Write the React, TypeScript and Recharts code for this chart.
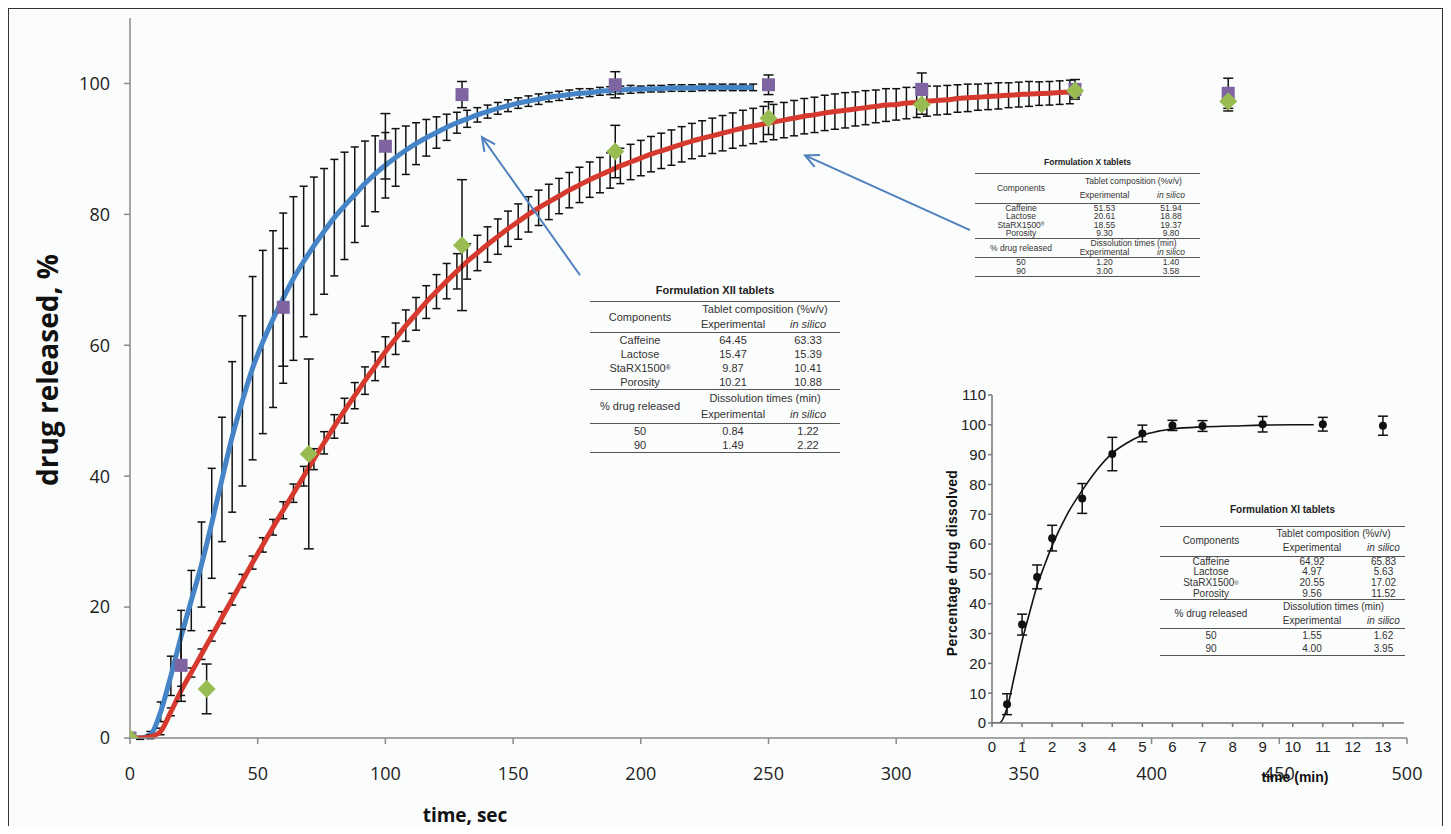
import React from 'react';
import { ComposedChart, Line, Scatter, XAxis, YAxis, ErrorBar, ReferenceLine } from 'recharts';

// ---- Main chart: simulated curves (time in s, % released, error) ----
const blueTimes = [0,4,8,12,16,20,24,28,32,36,40,44,48,52,56,60,64,68,72,76,80,84,88,92,96,100,104,108,112,116,120,124,128,132,136,140,144,148,152,156,160,164,168,172,176,180,184,188,192,196,200,204,208,212,216,220,224,228,232,236,240,244];
const blueValues = [0,0,0.5,4,9.5,15.5,21,26.5,32.8,39.5,46,51.5,56.5,60.5,64,67.2,70.2,72.8,75.2,77.4,79.5,81.3,83,84.7,86.2,87.5,88.7,89.8,90.8,91.7,92.5,93.3,94,94.6,95.2,95.7,96.2,96.6,97,97.3,97.6,97.9,98.1,98.3,98.5,98.6,98.8,98.9,99,99.1,99.1,99.2,99.2,99.3,99.3,99.3,99.4,99.4,99.4,99.4,99.4,99.4];
const blueErrors = [0,0.2,0.5,1.5,3,4,4.6,6.5,8.4,9.5,11.5,13,14,14,13.5,13,12.5,11.5,10.5,9.6,8.9,8.2,7.3,6.5,5.8,5,4.4,3.7,3.2,2.8,2.4,2,1.6,1.3,1.1,1,0.9,0.9,0.8,0.8,0.8,0.7,0.7,0.7,0.7,0.6,0.6,0.6,0.6,0.6,0.5,0.5,0.5,0.5,0.5,0.5,0.5,0.5,0.5,0.5,0.5,0.5];

const redTimes = [0,4,8,12,16,20,24,28,32,36,40,44,48,52,56,60,64,68,72,76,80,84,88,92,96,100,104,108,112,116,120,124,128,132,136,140,144,148,152,156,160,164,168,172,176,180,184,188,192,196,200,204,208,212,216,220,224,228,232,236,240,244,248,252,256,260,264,268,272,276,280,284,288,292,296,300,304,308,312,316,320,324,328,332,336,340,344,348,352,356,360,364,368];
const redValues = [0,0,0.2,1,4,7.2,10,12.8,15.6,18.4,21.2,24,26.8,29.5,32.2,34.8,37.4,40,42.6,45.1,47.6,50,52.3,54.6,56.8,59,61,63,64.8,66.6,68.2,69.8,71.3,72.8,74.1,75.4,76.6,77.8,78.9,80,81,81.9,82.8,83.7,84.5,85.3,86,86.7,87.4,88,88.6,89.2,89.7,90.2,90.7,91.2,91.6,92,92.4,92.8,93.2,93.5,93.8,94.1,94.4,94.7,95,95.2,95.5,95.7,95.9,96.1,96.3,96.5,96.7,96.8,97,97.1,97.3,97.4,97.5,97.7,97.8,97.9,98,98.1,98.2,98.3,98.4,98.45,98.5,98.6,98.7];
const redErrors = [0,0.2,0.3,0.5,0.6,0.7,0.7,0.8,0.8,0.9,0.9,1,1,1.1,1.2,1.3,1.4,1.5,1.6,1.7,1.8,1.9,2,2.1,2.2,2.3,2.4,2.4,2.5,2.5,2.6,2.7,2.7,2.7,2.7,2.7,2.7,2.7,2.7,2.7,2.7,2.7,2.7,2.7,2.7,2.7,2.7,2.7,2.7,2.7,2.7,2.7,2.7,2.7,2.7,2.7,2.7,2.7,2.7,2.7,2.7,2.7,2.7,2.7,2.7,2.7,2.7,2.7,2.7,2.7,2.7,2.6,2.6,2.5,2.5,2.4,2.4,2.3,2.3,2.2,2.2,2.1,2.1,2,2,2,1.9,1.9,1.9,1.8,1.8,1.8,1.8];

// ---- Main chart: experimental points ----
const xiiTimes = [0,20,60,100,130,190,250,310,370,430];
const xiiValues = [0,11.1,65.8,90.4,98.3,99.8,99.8,99.1,99.1,98.5];
const xiiErrors = [0,5.5,9,5,2,2,1.5,2.5,1.5,2.3];

const xTimes = [0,30,70,130,190,250,310,370,430];
const xValues = [0,7.5,43.4,75.3,89.6,94.7,96.8,98.9,97.3];
const xErrors = [0,3.8,14.5,10,4,2.5,1.5,1,1.5];

const mainXTicks = [0,50,100,150,200,250,300,350,400,450,500];
const mainYTicks = [0,20,40,60,80,100];

// arrows [tail, tip] in data coordinates
const arrowXII = [{ x: 176.2, y: 70.7 }, { x: 137.8, y: 91.8 }];
const arrowX = [{ x: 328.9, y: 77.6 }, { x: 264.3, y: 89.0 }];

// ---- Inset (Formulation XI, minutes) ----
const insetCurveTimes = [0,0.25,0.5,0.75,1,1.25,1.5,1.75,2,2.5,3,3.5,4,4.5,5,5.5,6,7,8,9,10,10.7];
const insetCurveValues = [0,0,5,16,27.5,37,46,53,59.5,70,78,85,90.5,94,96.5,97.8,98.6,99.3,99.6,99.9,100,100];
const insetTimes = [0.5,1,1.5,2,3,4,5,6,7,9,11,13];
const insetValues = [6.3,33,49,62,75.3,90.2,97.1,99.8,99.6,100.2,100.2,99.7];
const insetErrors = [3.5,3.5,4,4.3,5,5.6,2.8,1.7,1.8,2.6,2.3,3.2];
const insetXTicks = [0,1,2,3,4,5,6,7,8,9,10,11,12,13];
const insetYTicks = [0,10,20,30,40,50,60,70,80,90,100,110];

// ---- Tables ----
const componentNames = ['Caffeine', 'Lactose', 'StaRX1500', 'Porosity'];
const xiiExp = ['64.45', '15.47', '9.87', '10.21'];
const xiiSil = ['63.33', '15.39', '10.41', '10.88'];
const xiiDiss = [['50', '0.84', '1.22'], ['90', '1.49', '2.22']];
const xExp = ['51.53', '20.61', '18.55', '9.30'];
const xSil = ['51.94', '18.88', '19.37', '9.80'];
const xDiss = [['50', '1.20', '1.40'], ['90', '3.00', '3.58']];
const xiExp = ['64.92', '4.97', '20.55', '9.56'];
const xiSil = ['65.83', '5.63', '17.02', '11.52'];
const xiDiss = [['50', '1.55', '1.62'], ['90', '4.00', '3.95']];

const zip3 = (t: number[], v: number[], e: number[]) => t.map((x, i) => ({ t: x, v: v[i], err: e[i] }));
const blueData = zip3(blueTimes, blueValues, blueErrors);
const redData = zip3(redTimes, redValues, redErrors);
const xiiData = zip3(xiiTimes, xiiValues, xiiErrors);
const xData = zip3(xTimes, xValues, xErrors);
const insetCurve = insetCurveTimes.map((t, i) => ({ t, v: insetCurveValues[i] }));
const insetData = zip3(insetTimes, insetValues, insetErrors);

const ArrowShape = (props: any) => {
  const { x1, y1, x2, y2 } = props;
  if ([x1, y1, x2, y2].some((v) => typeof v !== 'number' || isNaN(v))) return <g />;
  const ang = Math.atan2(y1 - y2, x1 - x2);
  const L = 15, a = 0.45;
  const p1 = `${x2 + L * Math.cos(ang + a)},${y2 + L * Math.sin(ang + a)}`;
  const p2 = `${x2 + L * Math.cos(ang - a)},${y2 + L * Math.sin(ang - a)}`;
  return (
    <g>
      <line x1={x1} y1={y1} x2={x2} y2={y2} stroke="#4f81bd" strokeWidth={2} />
      <polyline points={`${p1} ${x2},${y2} ${p2}`} fill="none" stroke="#4f81bd" strokeWidth={2} />
    </g>
  );
};

const SquareShape = (p: any) => <rect x={p.cx - 6.5} y={p.cy - 6.5} width={13} height={13} fill="#7f64a2" />;
const DiamondShape = (p: any) => (
  <polygon points={`${p.cx},${p.cy - 9} ${p.cx + 9},${p.cy} ${p.cx},${p.cy + 9} ${p.cx - 9},${p.cy}`} fill="#98bb52" />
);
const DotShape = (p: any) => <circle cx={p.cx} cy={p.cy} r={4} fill="#111" />;

type TSpec = {
  left: number; top: number; width: number; titleY: number; font: number;
  cols: number[]; hA: number; hBody: number; hB: number; hTail: number;
  title: string; exp: string[]; sil: string[]; diss: string[][];
};

const RULE = '1.5px solid #555';

const Cell = ({ children, style }: any) => (
  <div style={{ display: 'flex', alignItems: 'center', justifyContent: 'center', whiteSpace: 'nowrap', ...style }}>{children}</div>
);

const FormTable = ({ s }: { s: TSpec }) => {
  const grid = s.cols.map((c) => `${c}px`).join(' ');
  const block = (h: number, rows: number, extra: any = {}) => ({
    display: 'grid', gridTemplateColumns: grid, gridTemplateRows: `repeat(${rows}, 1fr)`,
    height: h, boxSizing: 'border-box' as const, borderTop: RULE, ...extra,
  });
  return (
    <>
      <div style={{ position: 'absolute', left: s.left, width: s.width, top: s.titleY, transform: 'translateY(-50%)', textAlign: 'center', fontFamily: 'Liberation Sans, Arial, sans-serif', fontWeight: 700, fontSize: s.font, color: '#222', lineHeight: 1 }}>
        {s.title}
      </div>
      <div style={{ position: 'absolute', left: s.left, top: s.top, width: s.width, fontFamily: 'Liberation Sans, Arial, sans-serif', fontSize: s.font, color: '#333', lineHeight: 1 }}>
        <div style={block(s.hA, 2)}>
          <Cell style={{ gridRow: '1 / 3', gridColumn: '1' }}>Components</Cell>
          <Cell style={{ gridColumn: '2 / 4' }}>Tablet composition (%v/v)</Cell>
          <Cell>Experimental</Cell>
          <Cell style={{ fontStyle: 'italic' }}>in silico</Cell>
        </div>
        <div style={block(s.hBody, 4)}>
          {componentNames.map((n, i) => (
            <React.Fragment key={n}>
              <Cell>{n}{n === 'StaRX1500' ? <sup style={{ fontSize: '0.6em' }}>®</sup> : null}</Cell>
              <Cell>{s.exp[i]}</Cell>
              <Cell>{s.sil[i]}</Cell>
            </React.Fragment>
          ))}
        </div>
        <div style={block(s.hB, 2)}>
          <Cell style={{ gridRow: '1 / 3', gridColumn: '1' }}>% drug released</Cell>
          <Cell style={{ gridColumn: '2 / 4' }}>Dissolution times (min)</Cell>
          <Cell>Experimental</Cell>
          <Cell style={{ fontStyle: 'italic' }}>in silico</Cell>
        </div>
        <div style={block(s.hTail, 2, { borderBottom: RULE })}>
          {s.diss.map((r, i) => (
            <React.Fragment key={i}>
              <Cell>{r[0]}</Cell>
              <Cell>{r[1]}</Cell>
              <Cell>{r[2]}</Cell>
            </React.Fragment>
          ))}
        </div>
      </div>
    </>
  );
};

const tableXII: TSpec = {
  left: 582, top: 293, width: 250, titleY: 282, font: 11, cols: [100, 86, 64],
  hA: 31, hBody: 57, hB: 34, hTail: 30, title: 'Formulation XII tablets', exp: xiiExp, sil: xiiSil, diss: xiiDiss,
};
const tableX: TSpec = {
  left: 967, top: 165, width: 225, titleY: 154, font: 8.5, cols: [92, 75, 58],
  hA: 29.5, hBody: 35, hB: 19.5, hTail: 19.5, title: 'Formulation X tablets', exp: xExp, sil: xSil, diss: xDiss,
};
const tableXI: TSpec = {
  left: 1152, top: 518, width: 245, titleY: 502, font: 10, cols: [102, 100, 43],
  hA: 29.5, hBody: 43.5, hB: 29, hTail: 28, title: 'Formulation XI tablets', exp: xiExp, sil: xiSil, diss: xiDiss,
};

const AXIS = '#8a8a8a';
const tickFont = { fontSize: 18, fill: '#222', fontFamily: 'Open Sans, sans-serif' };
const narrowFont = { fontSize: 15, fill: '#222', fontFamily: 'Liberation Sans Narrow, Liberation Sans, Arial, sans-serif' };

export default function App() {
  return (
    <div style={{ position: 'relative', width: 1435, height: 818, background: '#fbfcfc' }}>
      <div style={{ position: 'absolute', left: 0, top: 0 }}>
        <ComposedChart width={1435} height={818} margin={{ top: 10, right: 36, bottom: 0, left: 0 }}>
          <XAxis type="number" dataKey="t" domain={[0, 500]} ticks={mainXTicks} height={88}
            stroke={AXIS} strokeWidth={1.5} tickSize={6} tickMargin={23} tick={tickFont} allowDataOverflow />
          <YAxis type="number" domain={[0, 110]} ticks={mainYTicks} width={122}
            stroke={AXIS} strokeWidth={1.5} tickSize={6} tickMargin={14} tick={tickFont} allowDataOverflow />
          <Line data={blueData} dataKey="v" type="monotone" stroke="#4584c6" strokeWidth={5} dot={false} activeDot={false} isAnimationActive={false}>
            <ErrorBar dataKey="err" direction="y" width={4} stroke="#111" strokeWidth={1.5} isAnimationActive={false} />
          </Line>
          <Line data={redData} dataKey="v" type="monotone" stroke="#d63a2e" strokeWidth={5} dot={false} activeDot={false} isAnimationActive={false}>
            <ErrorBar dataKey="err" direction="y" width={4} stroke="#111" strokeWidth={1.5} isAnimationActive={false} />
          </Line>
          <Scatter data={xiiData} dataKey="v" shape={SquareShape} isAnimationActive={false}>
            <ErrorBar dataKey="err" direction="y" width={5} stroke="#111" strokeWidth={1.5} isAnimationActive={false} />
          </Scatter>
          <Scatter data={xData} dataKey="v" shape={DiamondShape} isAnimationActive={false}>
            <ErrorBar dataKey="err" direction="y" width={5} stroke="#111" strokeWidth={1.5} isAnimationActive={false} />
          </Scatter>
          <ReferenceLine segment={arrowXII} shape={ArrowShape} ifOverflow="visible" />
          <ReferenceLine segment={arrowX} shape={ArrowShape} ifOverflow="visible" />
        </ComposedChart>
      </div>

      <div style={{ position: 'absolute', left: 934, top: 377 }}>
        <ComposedChart width={468} height={380} margin={{ top: 10, right: 6, bottom: 0, left: 0 }}>
          <XAxis type="number" dataKey="t" domain={[0, 13.7]} ticks={insetXTicks} height={42}
            stroke="#777" strokeWidth={1.5} tickSize={4} tickMargin={14} tick={narrowFont} allowDataOverflow />
          <YAxis type="number" domain={[0, 110]} ticks={insetYTicks} width={50} interval={0}
            stroke="#777" strokeWidth={1.5} tickSize={4} tickMargin={2} tick={narrowFont} allowDataOverflow />
          <Line data={insetCurve} dataKey="v" type="monotone" stroke="#111" strokeWidth={1.6} dot={false} activeDot={false} isAnimationActive={false} />
          <Scatter data={insetData} dataKey="v" shape={DotShape} isAnimationActive={false}>
            <ErrorBar dataKey="err" direction="y" width={5} stroke="#111" strokeWidth={1.5} isAnimationActive={false} />
          </Scatter>
        </ComposedChart>
      </div>

      <FormTable s={tableXII} />
      <FormTable s={tableX} />
      <FormTable s={tableXI} />

      <div style={{ position: 'absolute', left: 39, top: 362, transform: 'translate(-50%, -50%) rotate(-90deg)', whiteSpace: 'nowrap', fontFamily: 'Open Sans, sans-serif', fontWeight: 700, fontSize: 28, color: '#111', lineHeight: 1 }}>
        drug released, %
      </div>
      <div style={{ position: 'absolute', left: 457, top: 807, transform: 'translate(-50%, -50%)', whiteSpace: 'nowrap', fontFamily: 'Open Sans, sans-serif', fontWeight: 700, fontSize: 19, color: '#111', lineHeight: 1 }}>
        time, sec
      </div>
      <div style={{ position: 'absolute', left: 943.5, top: 554.5, transform: 'translate(-50%, -50%) rotate(-90deg)', whiteSpace: 'nowrap', fontFamily: 'Liberation Sans, Arial, sans-serif', fontWeight: 700, fontSize: 14, color: '#111', lineHeight: 1, letterSpacing: 0.3 }}>
        Percentage drug dissolved
      </div>
      <div style={{ position: 'absolute', left: 1287, top: 769, transform: 'translate(-50%, -50%)', whiteSpace: 'nowrap', fontFamily: 'Liberation Sans, Arial, sans-serif', fontWeight: 700, fontSize: 14, color: '#111', lineHeight: 1 }}>
        time (min)
      </div>
      <div style={{ position: 'absolute', left: -1, top: -1, width: 1437, height: 822, border: '2px solid #333', boxSizing: 'border-box', pointerEvents: 'none', zIndex: 10 }} />
    </div>
  );
}
